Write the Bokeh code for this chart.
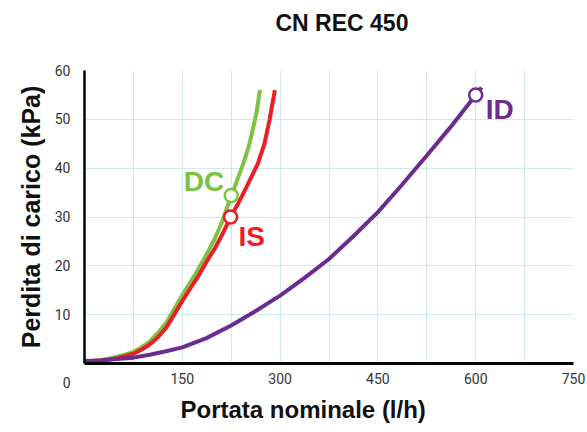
from bokeh.plotting import figure
from bokeh.models import FixedTicker, Label, Range1d, Title
from bokeh.embed import file_html
from bokeh.resources import INLINE

# ---- data ----
dc_flow = [0, 12, 25, 37, 50, 62, 75, 87, 100, 112, 125, 137, 150, 162, 175, 187,
           200, 212, 225, 235, 245, 252, 258, 264, 269]
dc_drop = [0.5, 0.5, 0.7, 1.0, 1.4, 1.8, 2.4, 3.3, 4.5, 6.2, 8.3, 11.0, 14.0, 16.6, 19.4, 22.3,
           25.6, 29.4, 34.3, 37.8, 41.5, 44.5, 47.8, 51.5, 56.0]

is_flow = [0, 12, 25, 37, 50, 62, 75, 87, 100, 112, 125, 137, 150, 162, 175, 187,
           200, 212, 224, 235, 245, 256, 266, 276, 284, 288, 292]
is_drop = [0.5, 0.5, 0.6, 0.8, 1.1, 1.5, 2.0, 2.8, 3.9, 5.3, 7.3, 9.9, 12.8, 15.3, 18.0, 20.8,
           23.6, 26.6, 30.0, 32.6, 35.2, 38.2, 41.0, 45.0, 50.0, 53.0, 56.0]

id_flow = [0, 25, 50, 75, 100, 125, 150, 187, 225, 262, 300, 337, 375, 412, 450, 487,
           525, 562, 600, 609]
id_drop = [0.5, 0.6, 0.9, 1.2, 1.8, 2.5, 3.3, 5.2, 7.8, 10.7, 13.9, 17.5, 21.4, 26.0, 31.0, 36.6,
           42.6, 48.5, 55.0, 56.5]

# nominal points (marker) for each valve
point_names = ["DC", "IS", "ID"]
point_flow = [225, 224, 600]
point_drop = [34.4, 30.0, 55.0]
point_colors = ["#7dc242", "#ee1c24", "#6a2c91"]

x_ticks = [150, 300, 450, 600, 750]
x_grid = [0, 75, 150, 225, 300, 375, 450, 525, 600, 675, 750]
y_ticks = [0, 10, 20, 30, 40, 50, 60]
y_grid = [0, 10, 20, 30, 40, 50, 60]

title_text = "CN REC 450"
x_title = "Portata nominale (l/h)"
y_title = "Perdita di carico (kPa)"

BOLD = "Liberation Sans"

p = figure(width=587, height=432, output_backend="svg", toolbar_location=None,
           title=None,
           x_range=Range1d(0, 750), y_range=Range1d(0, 60),
           min_border_left=84, min_border_right=14, min_border_top=70,
           min_border_bottom=69)

p.outline_line_color = None
p.background_fill_color = "white"
p.border_fill_color = "white"

# spacer (nearest the frame) then the real title above it
p.add_layout(Title(text=" ", text_font_size="1px", standoff=22), "above")
p.add_layout(Title(text=title_text, align="left", offset=191, vertical_align="top",
                   text_font=BOLD, text_font_style="bold", text_font_size="23px",
                   text_color="#111111", standoff=16), "above")

# x axis title below the tick labels
p.add_layout(Title(text=x_title, align="left", offset=96, vertical_align="bottom",
                   text_font=BOLD, text_font_style="bold", text_font_size="24px",
                   text_color="#111111", standoff=14), "below")

# grid
p.xgrid.ticker = FixedTicker(ticks=x_grid)
p.ygrid.ticker = FixedTicker(ticks=y_grid)
for g in (p.xgrid, p.ygrid):
    g.grid_line_color = "#cfe7ef"
    g.grid_line_width = 1

# axes
p.xaxis.ticker = FixedTicker(ticks=x_ticks)
p.yaxis.ticker = FixedTicker(ticks=y_ticks)
# the shared origin "0" sits lower, on the row of the x tick labels
p.yaxis.major_label_overrides = {0: "\n\n0"}
for ax in (p.xaxis, p.yaxis):
    ax.axis_line_color = "black"
    ax.major_tick_line_color = None
    ax.minor_tick_line_color = None
    ax.major_tick_out = 0
    ax.major_tick_in = 0
    ax.minor_tick_out = 0
    ax.minor_tick_in = 0
    ax.major_label_text_font = "Roboto"
    ax.major_label_text_font_size = "14px"
    ax.major_label_text_color = "#333333"
p.xaxis.axis_line_width = 3
p.yaxis.axis_line_width = 2.5
p.xaxis.major_label_standoff = 9
p.yaxis.major_label_standoff = 14

p.yaxis.axis_label = y_title
p.yaxis.axis_label_text_font = BOLD
p.yaxis.axis_label_text_font_style = "bold"
p.yaxis.axis_label_text_font_size = "25px"
p.yaxis.axis_label_text_color = "#111111"
p.yaxis.axis_label_standoff = 7

# curves
p.line(dc_flow, dc_drop, line_color=point_colors[0], line_width=4, line_join="round")
p.line(is_flow, is_drop, line_color=point_colors[1], line_width=4, line_join="round")
p.line(id_flow, id_drop, line_color=point_colors[2], line_width=4, line_join="round")

p.scatter(point_flow, point_drop, marker="circle", size=13, fill_color="white",
          line_color=point_colors, line_width=2.5)

# labels next to the nominal points
label_cfg = [
    dict(x_offset=-7, y_offset=14, text_align="right"),
    dict(x_offset=8, y_offset=-19, text_align="left"),
    dict(x_offset=10, y_offset=-15, text_align="left"),
]
for name, fx, fy, col, cfg in zip(point_names, point_flow, point_drop, point_colors, label_cfg):
    p.add_layout(Label(x=fx, y=fy, text=name, text_color=col, text_font=BOLD,
                       text_font_style="bold", text_font_size="28px",
                       text_baseline="alphabetic", **cfg))

open("out.html", "w").write(file_html(p, INLINE))
